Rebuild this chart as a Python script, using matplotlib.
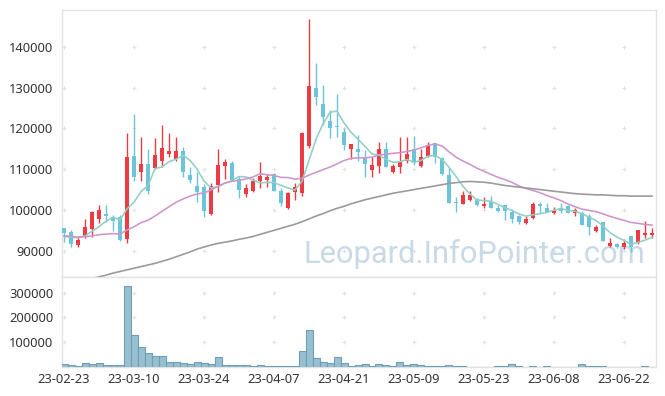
import numpy as np
import pandas as pd
import matplotlib
matplotlib.use('Agg')
import matplotlib.pyplot as plt

plt.rcParams['font.family'] = ['Noto Sans', 'DejaVu Sans']

# OHLC (thousand won)
opens = [95.5, 94.7, 91.5, 93.4, 95.4, 97.9, 98.9, 98.3, 98.2, 92.8,
         113.3, 109.4, 111.3, 110.4, 112.0, 113.8, 112.5, 114.5, 108.5, 105.9,
         105.7, 99.0, 106.1, 110.8, 111.6, 107.5, 103.8, 104.7, 107.0, 107.4,
         108.8, 104.7, 100.4, 104.3, 104.2, 115.7, 129.9, 125.9, 121.8, 120.6,
         119.1, 114.9, 114.9, 112.9, 109.7, 110.9, 114.9, 109.4, 110.6, 112.1,
         114.9, 110.9, 113.3, 116.4, 112.7, 108.6, 101.8, 101.5, 102.5, 102.7,
         101.0, 102.0, 100.6, 101.1, 99.6, 98.5, 96.7, 98.1, 101.5, 100.4,
         99.2, 100.6, 101.0, 99.3, 99.2, 98.5, 94.9, 97.0, 91.2, 91.6,
         90.8, 93.6, 91.8, 93.9, 93.9]
highs = [95.6, 95.2, 93.4, 97.9, 99.7, 101.1, 101.1, 98.8, 98.8, 118.8,
         123.6, 118.0, 114.9, 117.6, 120.9, 118.8, 117.8, 115.4, 110.5, 109.4,
         106.4, 106.7, 114.9, 112.4, 111.9, 108.3, 106.3, 107.8, 111.8, 108.8,
         109.0, 105.3, 104.3, 106.7, 119.2, 146.8, 136.0, 130.7, 124.5, 128.4,
         120.0, 116.2, 118.4, 114.7, 113.1, 116.8, 116.8, 111.3, 117.8, 117.8,
         118.2, 114.9, 116.8, 116.5, 112.9, 110.2, 103.3, 104.7, 104.7, 102.9,
         103.3, 103.4, 101.2, 101.3, 100.2, 98.8, 98.4, 101.9, 102.0, 101.8,
         100.8, 101.6, 101.1, 100.4, 99.8, 99.0, 96.3, 97.1, 93.0, 91.8,
         92.8, 93.7, 95.2, 97.4, 95.5]
lows = [92.1, 91.0, 91.0, 93.0, 93.4, 96.7, 97.1, 94.9, 92.5, 91.8,
        107.2, 107.2, 103.8, 110.1, 110.5, 113.1, 112.1, 108.2, 106.7, 102.0,
        98.2, 98.8, 104.5, 107.5, 107.0, 102.9, 103.1, 104.3, 105.3, 105.6,
        104.6, 101.0, 100.2, 102.5, 103.4, 115.1, 125.8, 120.9, 117.6, 118.0,
        114.7, 112.5, 111.9, 108.2, 108.2, 109.0, 110.5, 109.0, 109.0, 111.6,
        111.0, 110.6, 112.9, 111.5, 108.6, 101.6, 99.6, 101.4, 102.3, 100.9,
        100.6, 100.5, 99.6, 97.5, 96.9, 96.6, 96.5, 97.9, 99.2, 99.5,
        99.0, 99.2, 99.2, 98.4, 96.2, 93.9, 94.7, 92.3, 90.8, 90.6,
        90.3, 89.8, 91.6, 93.0, 93.0]
closes = [94.4, 91.6, 92.6, 95.9, 99.4, 100.0, 98.4, 97.4, 92.7, 112.9,
          108.2, 111.4, 104.7, 113.5, 115.1, 114.5, 114.5, 109.4, 107.4, 104.4,
          99.8, 105.9, 111.0, 111.8, 107.4, 104.9, 105.4, 107.2, 108.3, 108.1,
          104.7, 101.8, 104.1, 105.7, 119.0, 130.4, 127.6, 122.9, 120.0, 120.4,
          116.0, 116.1, 114.3, 111.2, 111.0, 114.9, 110.6, 110.8, 111.9, 113.7,
          111.5, 112.9, 116.0, 112.9, 108.8, 101.8, 101.7, 103.7, 103.7, 101.1,
          101.5, 100.6, 99.8, 99.7, 97.9, 97.1, 97.9, 101.5, 101.0, 99.6,
          99.8, 99.8, 99.3, 100.0, 96.3, 95.9, 95.7, 92.5, 91.8, 90.8,
          91.8, 90.8, 95.1, 94.4, 94.4]
# closes before the first visible day (estimated, only used to warm up the averages)
prev_closes = [95.5, 95.2, 94.8, 95.0, 94.6, 95.3, 94.9, 94.7,
               93.0, 92.2, 91.8, 92.5, 92.9, 92.0, 92.1,
               92.6, 93.2, 93.6, 93.7]
# long moving average (gray line)
long_ma = [81.5, 81.9, 82.3, 82.8, 83.2, 83.6, 84.0, 84.5, 84.9, 85.3,
           85.7, 86.1, 86.5, 86.9, 87.4, 87.9, 88.5, 89.1, 89.7, 90.4,
           90.9, 91.4, 91.8, 92.1, 92.4, 92.8, 93.1, 93.5, 94.0, 94.5,
           95.0, 95.5, 96.0, 96.5, 97.1, 97.8, 98.5, 99.1, 99.8, 100.4,
           100.9, 101.5, 102.0, 102.5, 102.9, 103.3, 103.7, 104.1, 104.4, 104.7,
           105.0, 105.3, 105.6, 105.9, 106.2, 106.5, 106.7, 106.9, 107.0, 106.9,
           106.8, 106.6, 106.3, 106.0, 105.8, 105.6, 105.4, 105.2, 105.0, 104.8,
           104.6, 104.4, 104.2, 104.0, 103.9, 103.8, 103.7, 103.7, 103.6, 103.5,
           103.5, 103.4, 103.4, 103.4, 103.4]
volumes = [12000, 8000, 4000, 16000, 12000, 16000, 8000, 8000, 8000, 325000,
           128000, 80000, 56000, 44000, 44000, 20000, 20000, 16000, 12000, 20000,
           16000, 12000, 40000, 8000, 8000, 8000, 7000, 4000, 8000, 4000,
           4000, 4000, 4000, 4000, 64000, 148000, 36000, 20000, 16000, 40000,
           16000, 4000, 8000, 12000, 4000, 12000, 8000, 4000, 20000, 8000,
           12000, 8000, 4000, 4000, 4000, 8000, 4000, 4000, 0, 0,
           0, 0, 4000, 4000, 12000, 4000, 0, 4000, 0, 4000,
           0, 0, 0, 0, 12000, 4000, 4000, 4000, 0, 0,
           0, 0, 0, 4000, 0]
tick_labels = ['23-02-23', '23-03-10', '23-03-24', '23-04-07', '23-04-21',
               '23-05-09', '23-05-23', '23-06-08', '23-06-22']
price_ticks = [90000, 100000, 110000, 120000, 130000, 140000]
volume_ticks = [100000, 200000, 300000]

o = np.array(opens) * 1000
h = np.array(highs) * 1000
l = np.array(lows) * 1000
c = np.array(closes) * 1000
n = len(c)
x = np.arange(n)

allc = pd.Series(list(prev_closes) + list(closes)) * 1000
ma5 = allc.rolling(5).mean().values[len(prev_closes):]
ma20 = allc.rolling(20).mean().values[len(prev_closes):]

RED = '#ec3b42'
BLUE = '#6cc4da'
GRID = '#e2e2e2'
TXT = '#333333'

fig = plt.figure(figsize=(6.65, 3.96), dpi=100)
ax = fig.add_axes([0.0928, 0.2997, 0.8932, 0.6743])
axv = fig.add_axes([0.0928, 0.0725, 0.8932, 0.2272], sharex=ax)

xticks = np.arange(0, n, 10)

# main panel
up = c >= o
cols = np.where(up, RED, BLUE)
ax.vlines(x, l, h, colors=cols, linewidth=1.0, zorder=3)
body_lo = np.minimum(o, c)
body_h = np.maximum(np.abs(c - o), 250)
ax.bar(x, body_h, bottom=body_lo, width=0.66, color=cols, linewidth=0, zorder=4)

ax.plot(x, ma5, color='#93cfc3', lw=1.15, zorder=5)
ax.plot(x, ma20, color='#cf95cb', lw=1.15, zorder=5)
ax.plot(x, np.array(long_ma) * 1000, color='#9b9b9b', lw=1.2, zorder=5)

gx, gy = np.meshgrid(xticks, price_ticks)
ax.scatter(gx.ravel(), gy.ravel(), marker='+', s=12, color=GRID, linewidths=0.8, zorder=1)

ax.text(0.982, 0.054, 'Leopard.InfoPointer.com', transform=ax.transAxes,
        ha='right', va='baseline', fontsize=22.2, color='#c7dae6',
        family=['Roboto', 'DejaVu Sans'], zorder=2)

ax.set_xlim(-0.33, 84.53)
ax.set_ylim(83470, 149000)
ax.set_yticks(price_ticks)
ax.set_yticklabels([str(v) for v in price_ticks])
ax.tick_params(axis='x', labelbottom=False, length=0)
ax.tick_params(axis='y', length=0, pad=6, labelsize=9.3, labelcolor=TXT)

# volume panel
axv.bar(x, volumes, width=1.0, color='#97bfcf', edgecolor='#6d9fb7', linewidth=0.8, zorder=3)
gx, gy = np.meshgrid(xticks, volume_ticks)
axv.scatter(gx.ravel(), gy.ravel(), marker='+', s=12, color=GRID, linewidths=0.8, zorder=1)
axv.set_ylim(-2000, 362000)
axv.set_yticks(volume_ticks)
axv.set_yticklabels([str(v) for v in volume_ticks])
axv.set_xticks(xticks)
axv.set_xticklabels(tick_labels)
axv.tick_params(axis='both', length=0, labelsize=9.3, labelcolor=TXT)
axv.tick_params(axis='y', pad=6)
axv.tick_params(axis='x', pad=4)

for a in (ax, axv):
    for s in a.spines.values():
        s.set_color('#e3e3e3')
        s.set_linewidth(1.0)

fig.savefig('out.png', dpi=100)
